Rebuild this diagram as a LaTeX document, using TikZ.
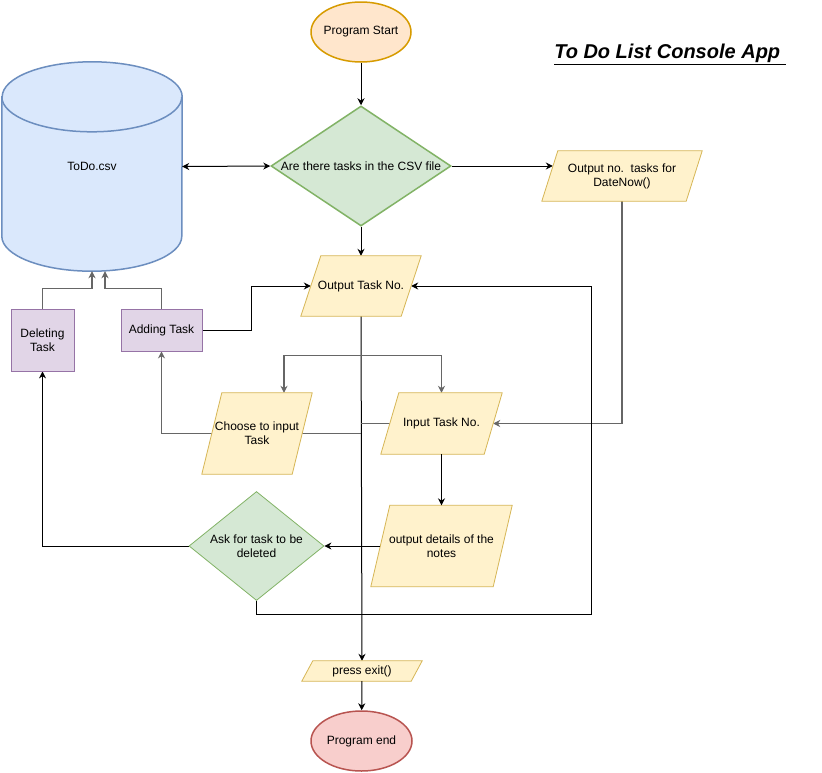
\documentclass[tikz,border=0pt]{standalone}
\usepackage{fontspec}
\setmainfont{Liberation Sans}
\usetikzlibrary{arrows.meta,shapes.geometric,calc,backgrounds}
\definecolor{startfill}{HTML}{FFE6CC}
\definecolor{startdraw}{HTML}{D79B00}
\definecolor{endfill}{HTML}{F8CECC}
\definecolor{enddraw}{HTML}{B85450}
\definecolor{choicefill}{HTML}{D5E8D4}
\definecolor{choicedraw}{HTML}{82B366}
\definecolor{iofill}{HTML}{FFF2CC}
\definecolor{iodraw}{HTML}{D6B656}
\definecolor{taskfill}{HTML}{E1D5E7}
\definecolor{taskdraw}{HTML}{9673A6}
\definecolor{csvfill}{HTML}{DAE8FC}
\definecolor{csvdraw}{HTML}{6C8EBF}
\newcommand{\ioshape}[2]{\path[fill=iofill, draw=iodraw, line width=0.8pt] ([xshift=#2pt]#1.north west) -- (#1.north east) -- ([xshift=-#2pt]#1.south east) -- (#1.south west) -- cycle;}

\begin{document}
\begin{tikzpicture}[x=1pt, y=-1pt,
			font=\fontsize{12}{14}\selectfont,
			>={Stealth[length=7pt,width=7pt]},
			every node/.style={inner sep=0pt, align=center},
			term/.style={ellipse, inner sep=-5pt, line width=1.5pt, minimum width=100pt, minimum height=60pt},
			choice/.style={diamond, inner sep=-3pt, fill=choicefill, draw=choicedraw},
			io/.style={rectangle},
			task/.style={rectangle, fill=taskfill, draw=taskdraw, line width=0.8pt},
			link/.style={->, line width=1pt},
			glink/.style={->, line width=1.2pt, draw=black!60},
			gline/.style={line width=1.2pt, draw=black!60}]
			\useasboundingbox (0,0) rectangle (822,772);
			\node[term, fill=startfill, draw=startdraw] (start) at (361,32) {Program Start};
			\node[font=\fontsize{20}{24}\selectfont\bfseries\itshape] (title) at (670,54) {\underline{To Do List Console App\ }};
			\node[minimum width=180pt, minimum height=209pt] (csv) at (92,166.5) {ToDo.csv};
			\node[choice, line width=1.5pt, minimum width=180pt, minimum height=120pt, aspect=1.5] (q1) at (361,166) {Are there tasks in the CSV file};
			\node[io, minimum width=160pt, minimum height=50pt] (outno) at (622,176) {Output no.\ \ tasks for\\DateNow()};
			\node[io, minimum width=120pt, minimum height=60pt] (outtask) at (361,286) {Output Task No.};
			\node[task, minimum width=63pt, minimum height=62pt] (del) at (42.5,340) {Deleting\\Task};
			\node[task, minimum width=81pt, minimum height=42pt] (add) at (161.5,330) {Adding Task};
			\node[io, minimum width=110pt, minimum height=81pt] (choose) at (257,433.5) {Choose to input\\Task};
			\node[io, minimum width=121pt, minimum height=61pt] (inp) at (441.5,423.5) {Input Task No.};
			\node[io, minimum width=141pt, minimum height=81pt] (det) at (441.5,546) {output details of the\\notes};
			\node[choice, line width=0.8pt, minimum width=135pt, minimum height=109pt, aspect=1.24] (ask) at (256.5,546) {Ask for task to be\\deleted};
			\node[io, minimum width=120pt, minimum height=20pt] (exit) at (362,671) {press exit()};
			\node[term, fill=endfill, draw=enddraw, minimum width=101pt] (end) at (361.5,741) {Program end};
			\coordinate (split) at ($(outtask.south)+(0,39)$);
			\begin{scope}[on background layer]
				\fill[white] (0,0) rectangle (822,772);
				\path[fill=csvfill, draw=csvdraw, line width=1.5pt] ([yshift=-35pt]csv.north west) -- ([yshift=35pt]csv.south west) arc[start angle=180, end angle=360, x radius=90pt, y radius=35pt] -- ([yshift=-35pt]csv.north east) arc[start angle=0, end angle=180, x radius=90pt, y radius=35pt] -- cycle;
				\draw[csvdraw, line width=1.5pt] ([yshift=-35pt]csv.north west) arc[start angle=180, end angle=360, x radius=90pt, y radius=35pt];
				\draw[link] (start) -- (q1);
				\draw[link, <->] (csv.east) -- (q1.west);
				\draw[link] (q1.east) -- ($(q1.east -| outno.west)+(11,0)$);
				\draw[glink] (outno.south) |- ([xshift=-9pt]inp.east);
				\draw[link] (q1) -- (outtask);
				\draw[link] (add.east) -- ++(49,0) |- ([xshift=10pt]outtask.west);
				\draw[link] (ask.south) -- ++(0,14) -| ($(outtask.east)+(170,0)$) -- ([xshift=-10pt]outtask.east);
				\draw[link] (outtask.south) -- (exit.north);
				\draw[glink] (split) -| ([xshift=27pt]choose.north);
				\draw[glink] (split) -| (inp.north);
				\draw[glink] (outtask.south |- choose.center) -| (add.south);
				\draw[gline] (outtask.south |- inp.center) -- ([xshift=9pt]inp.west);
				\ioshape{outno}{16}
				\ioshape{outtask}{20}
				\ioshape{choose}{20}
				\ioshape{inp}{18}
				\ioshape{det}{19}
				\ioshape{exit}{11}
				\draw[link] (inp) -- (det);
				\draw[link] (det.west) ++(9.5,0) -- (ask.east);
				\draw[link] (ask.west) -| (del.south);
				\draw[glink] (del.north) -- ++(0,-20) -| (csv.south);
				\draw[glink] (add.north) -- ++(0,-20) -| ([xshift=13pt]csv.south);
				\draw[link] (exit) -- (end);
			\end{scope}
		\end{tikzpicture}
\end{document}
